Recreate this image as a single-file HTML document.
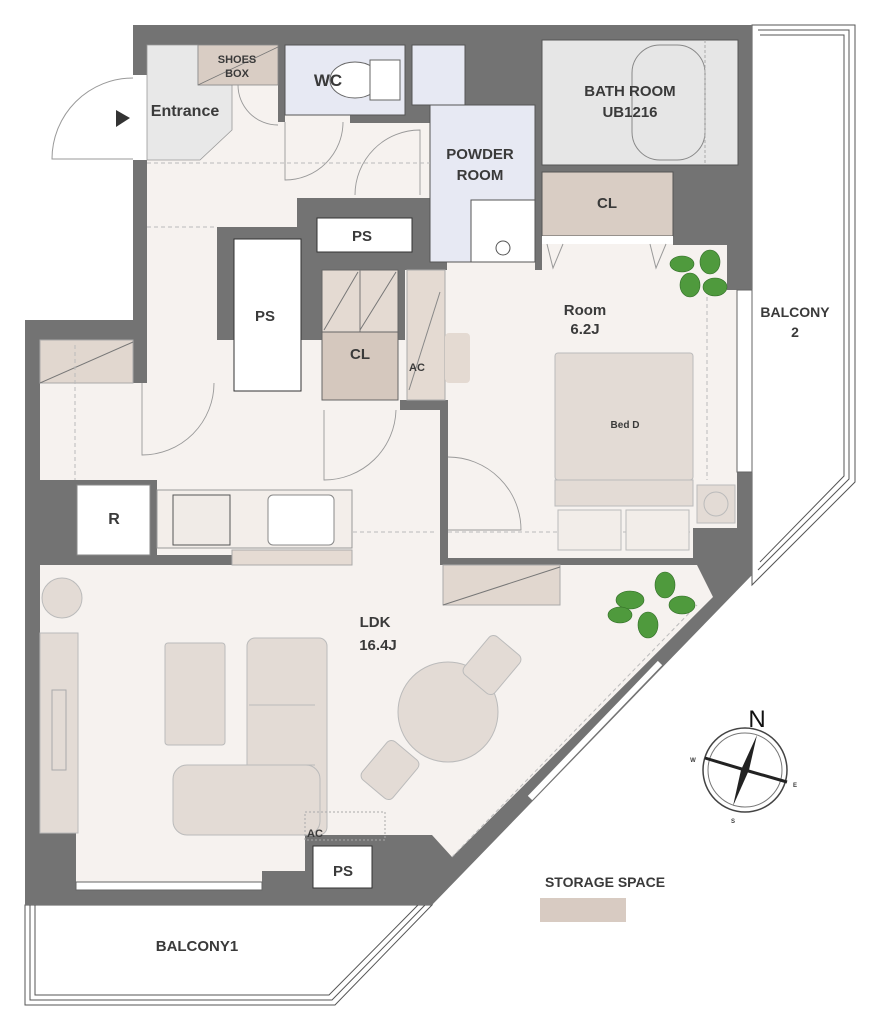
<!DOCTYPE html>
<html><head><meta charset="utf-8"><style>
html,body{margin:0;padding:0;background:#fff}
svg{display:block}
text{font-family:"Liberation Sans",sans-serif;font-weight:bold;fill:#3a3a3a;text-anchor:middle}
</style></head><body>
<svg width="877" height="1024" viewBox="0 0 877 1024" xmlns="http://www.w3.org/2000/svg">
<g fill="none" stroke="#555" stroke-width="1">
<polygon points="752,25 855,25 855,482 752,585" fill="#fff"/>
<polyline points="758,30 849,30 849,479 758,570"/>
<polyline points="760,35 844,35 844,476 760,562"/>
<polygon points="25,905 25,1005 335,1005 432,905" fill="#fff"/>
<polyline points="30,905 30,1000 332,1000 425,905"/>
<polyline points="35,905 35,995 329,995 418,905"/>
</g>
<polygon points="133,25 752,25 752,575 432,905 25,905 25,320 133,320" fill="#737373"/>
<g fill="#f6f2ef">
<polygon points="147,45 420,45 420,122 430,122 430,198 297,198 297,227 217,227 217,410 405,410 405,270 430,270 430,262 447,262 447,244 727,244 727,290 737,290 737,528 693,528 693,558 448,558 448,410 440,410 440,400 322,400 322,410 217,410 147,410 147,383 140,383 140,320 147,320"/>
<polygon points="40,340 440,340 440,565 697,565 713,597 452,857 432,835 305,835 305,871 262,871 262,882 76,882 76,826 40,826"/>
<rect x="140" y="383" width="300" height="100"/>
</g>
<g fill="#737373">
<rect x="40" y="480" width="117" height="85"/>
<rect x="40" y="555" width="192" height="10"/>
<rect x="440" y="410" width="8" height="44"/>
<rect x="440" y="530" width="8" height="35"/>
<rect x="440" y="558" width="253" height="7"/>
<rect x="693" y="528" width="20" height="37"/>
<rect x="133" y="320" width="14" height="63"/>
<rect x="405" y="45" width="7" height="60"/>
<rect x="405" y="105" width="25" height="18"/>
<rect x="278" y="45" width="7" height="77"/>
<rect x="350" y="115" width="80" height="8"/>
<rect x="535" y="45" width="7" height="225"/>
<rect x="400" y="262" width="47" height="8"/>
<rect x="673" y="165" width="79" height="80"/>
<rect x="400" y="400" width="48" height="10"/>
</g>
<rect x="133" y="75" width="14" height="85" fill="#fff"/>
<polygon points="147,45 198,45 198,85 232,85 232,130 200,160 147,160" fill="#e8e8e8" stroke="#999" stroke-width="0.8"/>
<rect x="198" y="45" width="80" height="40" fill="#d9cdc4" stroke="#888" stroke-width="0.8"/>
<line x1="198" y1="85" x2="278" y2="47" stroke="#777" stroke-width="0.8"/>
<path d="M133,159 L52,159 A81,81 0 0 1 133,78" fill="none" stroke="#999"/>
<polygon points="116,110 130,118 116,127" fill="#333"/>
<rect x="285" y="45" width="120" height="70" fill="#e7e9f3" stroke="#555"/>
<ellipse cx="355" cy="80" rx="25" ry="18" fill="#fff" stroke="#666"/>
<rect x="370" y="60" width="30" height="40" fill="#fff" stroke="#666"/>
<rect x="412" y="45" width="53" height="60" fill="#e7e9f3" stroke="#555"/>
<rect x="430" y="105" width="105" height="157" fill="#e7e9f3" stroke="#555"/>
<rect x="471" y="200" width="64" height="62" fill="#fff" stroke="#555"/>
<circle cx="503" cy="248" r="7" fill="none" stroke="#555"/>
<rect x="542" y="40" width="196" height="125" fill="#e6e6e6" stroke="#555"/>
<rect x="632" y="45" width="73" height="115" rx="28" fill="none" stroke="#888"/>
<line x1="705" y1="40" x2="705" y2="165" stroke="#aaa" stroke-dasharray="3,2"/>
<rect x="542" y="172" width="131" height="64" fill="#d9cdc4" stroke="#555"/>
<rect x="542" y="236" width="131" height="8" fill="#fff"/>
<path d="M547,244 L553,268 L563,244 M650,244 L656,268 L666,244" fill="none" stroke="#999"/>
<rect x="234" y="239" width="67" height="152" fill="#fff" stroke="#333"/>
<rect x="317" y="218" width="95" height="34" fill="#fff" stroke="#333"/>
<rect x="322" y="270" width="76" height="62" fill="#e4dad2" stroke="#666"/>
<path d="M324,330 L358,272 M360,330 L396,272 M360,270 L360,332" stroke="#777" fill="none"/>
<rect x="322" y="332" width="76" height="68" fill="#d5c8be" stroke="#666"/>
<rect x="407" y="270" width="38" height="130" fill="#e4dad2" stroke="#aaa"/>
<line x1="409" y1="390" x2="440" y2="292" stroke="#888"/>
<rect x="445" y="333" width="25" height="50" rx="4" fill="#e4dad2"/>
<rect x="40" y="340" width="93" height="43" fill="#e1d7cf" stroke="#aaa"/>
<line x1="40" y1="383" x2="133" y2="342" stroke="#777"/>
<g fill="none" stroke="#999" stroke-width="0.9">
<path d="M285,122 L285,180 A58,58 0 0 0 343,122"/>
<path d="M355,195 A65,65 0 0 1 420,130 L420,195"/>
<path d="M238,85 A40,40 0 0 0 278,125"/>
<path d="M142,383 L142,455 A72,72 0 0 0 214,383"/>
<path d="M324,410 L324,480 A72,72 0 0 0 396,410"/>
<path d="M448,457 A73,73 0 0 1 521,530 L448,530"/>
</g>
<g stroke="#bbb" stroke-dasharray="4,3" fill="none">
<line x1="147" y1="163" x2="430" y2="163"/>
<line x1="147" y1="227" x2="217" y2="227"/>
<line x1="75" y1="345" x2="75" y2="480"/>
<line x1="157" y1="532" x2="437" y2="532"/>
<line x1="448" y1="532" x2="693" y2="532"/>
<line x1="707" y1="290" x2="707" y2="480"/>
<line x1="452" y1="857" x2="697" y2="605"/>
</g>
<rect x="77" y="485" width="73" height="70" fill="#fff" stroke="#888"/>
<rect x="157" y="490" width="195" height="58" fill="#f3eeea" stroke="#999"/>
<rect x="173" y="495" width="57" height="50" fill="#f0ebe7" stroke="#555"/>
<rect x="268" y="495" width="66" height="50" rx="5" fill="#fff" stroke="#888"/>
<rect x="232" y="550" width="120" height="15" fill="#e5dbd3" stroke="#aaa"/>
<rect x="443" y="565" width="117" height="40" fill="#e1d7cf" stroke="#aaa"/>
<line x1="443" y1="605" x2="560" y2="567" stroke="#777"/>
<circle cx="62" cy="598" r="20" fill="#e3dbd5" stroke="#bbb"/>
<rect x="40" y="633" width="38" height="200" fill="#e3dbd5" stroke="#bbb"/>
<rect x="52" y="690" width="14" height="80" fill="none" stroke="#aaa"/>
<rect x="165" y="643" width="60" height="102" rx="3" fill="#e3dbd5" stroke="#bbb"/>
<rect x="247" y="638" width="80" height="197" rx="8" fill="#e3dbd5" stroke="#bbb"/>
<line x1="249" y1="705" x2="315" y2="705" stroke="#bbb"/>
<line x1="249" y1="765" x2="315" y2="765" stroke="#bbb"/>
<rect x="173" y="765" width="147" height="70" rx="14" fill="#e3dbd5" stroke="#bbb"/>
<circle cx="448" cy="712" r="50" fill="#e3dbd5" stroke="#bbb"/>
<rect x="472" y="640" width="40" height="50" rx="6" transform="rotate(40 492 665)" fill="#e3dbd5" stroke="#bbb"/>
<rect x="370" y="745" width="40" height="50" rx="6" transform="rotate(40 390 770)" fill="#e3dbd5" stroke="#bbb"/>
<rect x="305" y="812" width="80" height="28" fill="none" stroke="#aaa" stroke-dasharray="2,2"/>
<rect x="313" y="846" width="59" height="42" fill="#fff" stroke="#333"/>
<rect x="76" y="882" width="186" height="8" fill="#fff" stroke="#666"/>
<line x1="530" y1="798" x2="660" y2="663" stroke="#fff" stroke-width="6"/>
<rect x="555" y="353" width="138" height="127" rx="3" fill="#e3dbd5" stroke="#bbb"/>
<rect x="555" y="480" width="138" height="26" fill="#e3dbd5" stroke="#bbb"/>
<rect x="558" y="510" width="63" height="40" fill="#f2ede9" stroke="#bbb"/>
<rect x="626" y="510" width="63" height="40" fill="#f2ede9" stroke="#bbb"/>
<rect x="697" y="485" width="38" height="38" fill="#e3dbd5" stroke="#bbb"/>
<circle cx="716" cy="504" r="12" fill="none" stroke="#bbb"/>
<rect x="737" y="290" width="15" height="182" fill="#fff" stroke="#666"/>
<g fill="#4f9a3d" stroke="#2f6b25" stroke-width="0.6">
<ellipse cx="682" cy="264" rx="12" ry="8"/><ellipse cx="710" cy="262" rx="10" ry="12"/><ellipse cx="690" cy="285" rx="10" ry="12"/><ellipse cx="715" cy="287" rx="12" ry="9"/>
<ellipse cx="630" cy="600" rx="14" ry="9"/><ellipse cx="665" cy="585" rx="10" ry="13"/><ellipse cx="682" cy="605" rx="13" ry="9"/><ellipse cx="648" cy="625" rx="10" ry="13"/><ellipse cx="620" cy="615" rx="12" ry="8"/>
</g>
<circle cx="745" cy="770" r="42" fill="#fff" stroke="#444" stroke-width="1.5"/>
<circle cx="745" cy="770" r="37" fill="none" stroke="#777"/>
<polygon points="757,735 749,770 733,806 741,770" fill="#222"/>
<polygon points="705,758 745,770 787,782 745,770" fill="#222" stroke="#222" stroke-width="3"/>
<text x="757" y="727" style="font-size:24px;font-weight:normal;fill:#111">N</text>
<text x="693" y="762" style="font-size:6px">W</text><text x="795" y="787" style="font-size:6px">E</text><text x="733" y="823" style="font-size:6px">S</text>
<rect x="540" y="898" width="86" height="24" fill="#d8cbc2"/>
<text x="185" y="116" style="font-size:16px">Entrance</text>
<text x="237" y="63" style="font-size:11px">SHOES</text><text x="237" y="77" style="font-size:11px">BOX</text>
<text x="328" y="86" style="font-size:17px">WC</text>
<text x="480" y="159" style="font-size:15px">POWDER</text><text x="480" y="180" style="font-size:15px">ROOM</text>
<text x="630" y="96" style="font-size:15px">BATH ROOM</text><text x="630" y="117" style="font-size:15px">UB1216</text>
<text x="607" y="208" style="font-size:15px">CL</text>
<text x="362" y="241" style="font-size:15px">PS</text>
<text x="265" y="321" style="font-size:15px">PS</text>
<text x="360" y="359" style="font-size:15px">CL</text>
<text x="417" y="371" style="font-size:11px">AC</text>
<text x="585" y="315" style="font-size:15px">Room</text><text x="585" y="334" style="font-size:15px">6.2J</text>
<text x="795" y="317" style="font-size:14px">BALCONY</text><text x="795" y="337" style="font-size:14px">2</text>
<text x="625" y="428" style="font-size:10px">Bed D</text>
<text x="114" y="524" style="font-size:16px">R</text>
<text x="375" y="627" style="font-size:15px">LDK</text><text x="378" y="650" style="font-size:15px">16.4J</text>
<text x="315" y="837" style="font-size:11px">AC</text>
<text x="343" y="876" style="font-size:15px">PS</text>
<text x="197" y="951" style="font-size:15px">BALCONY1</text>
<text x="605" y="887" style="font-size:14px">STORAGE SPACE</text>
</svg>
</body></html>
